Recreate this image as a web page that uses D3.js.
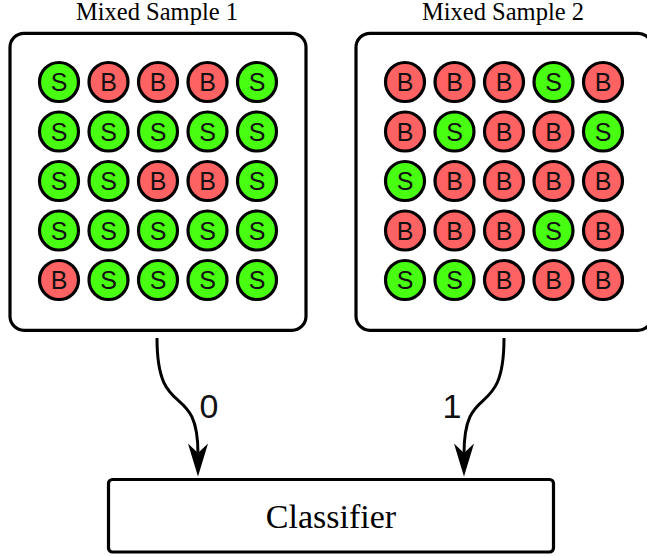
<!DOCTYPE html>
<html>
<head>
<meta charset="utf-8">
<script src="https://cdn.jsdelivr.net/npm/d3@7"></script>
<style>
  html, body { margin: 0; padding: 0; background: #fff; }
  svg { display: block; }
  .serif { font-family: 'Liberation Serif', 'Times New Roman', serif; }
  .sans { font-family: 'Liberation Sans', Arial, sans-serif; }
</style>
</head>
<body>
<svg id="chart" width="647" height="556"></svg>
<script>
// ---- data ----
const sampleTitles = ["Mixed Sample 1", "Mixed Sample 2"];
const sample1 = [
  ["S","B","B","B","S"],
  ["S","S","S","S","S"],
  ["S","S","B","B","S"],
  ["S","S","S","S","S"],
  ["B","S","S","S","S"]
];
const sample2 = [
  ["B","B","B","S","B"],
  ["B","S","B","B","S"],
  ["S","B","B","B","B"],
  ["B","B","B","S","B"],
  ["S","S","B","B","B"]
];
const edgeLabels = ["0", "1"];
const classifierLabel = "Classifier";
const kinds = ["S", "B"];
const kindColors = ["#48ff12", "#ff6262"];

// ---- drawing ----
const svg = d3.select("#chart");
const color = d3.scaleOrdinal().domain(kinds).range(kindColors);

const boxX = d3.scalePoint().domain([0, 1]).range([10, 356]);
const boxW = 296, boxH = 297, boxY = 33.3;
const idx = d3.range(5);

const samples = [sample1, sample2];

samples.forEach((grid, si) => {
  const x0 = boxX(si);
  const g = svg.append("g");
  g.append("rect")
    .attr("x", x0).attr("y", boxY)
    .attr("width", boxW).attr("height", boxH)
    .attr("rx", 14).attr("ry", 14)
    .attr("fill", "#fff").attr("stroke", "#000").attr("stroke-width", 3.2);

  const cx = d3.scalePoint().domain(idx).range([x0 + 49, x0 + 247]);
  const cy = d3.scalePoint().domain(idx).range([82, 280]);

  g.append("text").attr("class", "serif")
    .attr("x", x0 + boxW / 2 - 1).attr("y", 20)
    .attr("text-anchor", "middle")
    .attr("font-size", 24.5)
    .text(sampleTitles[si]);

  const cells = [];
  grid.forEach((row, r) => row.forEach((k, c) => cells.push({r, c, k})));

  const cg = g.selectAll("g.cell").data(cells).join("g").attr("class", "cell")
    .attr("transform", d => `translate(${cx(d.c)},${cy(d.r)})`);
  cg.append("circle")
    .attr("r", 19.5)
    .attr("fill", d => color(d.k))
    .attr("stroke", "#000").attr("stroke-width", 3.2);
  cg.append("text").attr("class", "sans")
    .attr("text-anchor", "middle")
    .attr("y", 9)
    .attr("font-size", 25)
    .attr("fill", "#111")
    .text(d => d.k);
});

// arrows
const arrowStart = [[157, 338], [504, 338]];
const arrowEnd = [[198, 474], [464, 474]];
const headLen = 28, headW = 8.5, notch = 8;

arrowStart.forEach((s, i) => {
  const e = arrowEnd[i];
  const lineEndY = e[1] - headLen + notch;
  const p = d3.path();
  p.moveTo(s[0], s[1]);
  p.bezierCurveTo(s[0], s[1] + 85, e[0], lineEndY - 75, e[0], lineEndY);
  svg.append("path").attr("d", p.toString())
    .attr("fill", "none").attr("stroke", "#000").attr("stroke-width", 3);
  const h = d3.path();
  h.moveTo(e[0], e[1]);
  h.lineTo(e[0] - headW, e[1] - headLen);
  h.lineTo(e[0], e[1] - headLen + notch);
  h.lineTo(e[0] + headW, e[1] - headLen);
  h.closePath();
  svg.append("path").attr("d", h.toString())
    .attr("fill", "#000").attr("stroke", "#000").attr("stroke-width", 1.5)
    .attr("stroke-linejoin", "miter");
});

const labelPos = [[209, 418], [452, 418]];
svg.selectAll("text.edge").data(edgeLabels).join("text").attr("class", "edge sans")
  .attr("x", (d, i) => labelPos[i][0]).attr("y", (d, i) => labelPos[i][1])
  .attr("text-anchor", "middle")
  .attr("font-size", 34)
  .attr("fill", "#111")
  .text(d => d);

// classifier box
svg.append("rect")
  .attr("x", 108.5).attr("y", 479.5).attr("width", 445).attr("height", 72.5)
  .attr("rx", 4).attr("ry", 4)
  .attr("fill", "#fff").attr("stroke", "#000").attr("stroke-width", 3.2);
svg.append("text").attr("class", "serif")
  .attr("x", 331).attr("y", 527.5)
  .attr("text-anchor", "middle")
  .attr("font-size", 34)
  .text(classifierLabel);
</script>
</body>
</html>
